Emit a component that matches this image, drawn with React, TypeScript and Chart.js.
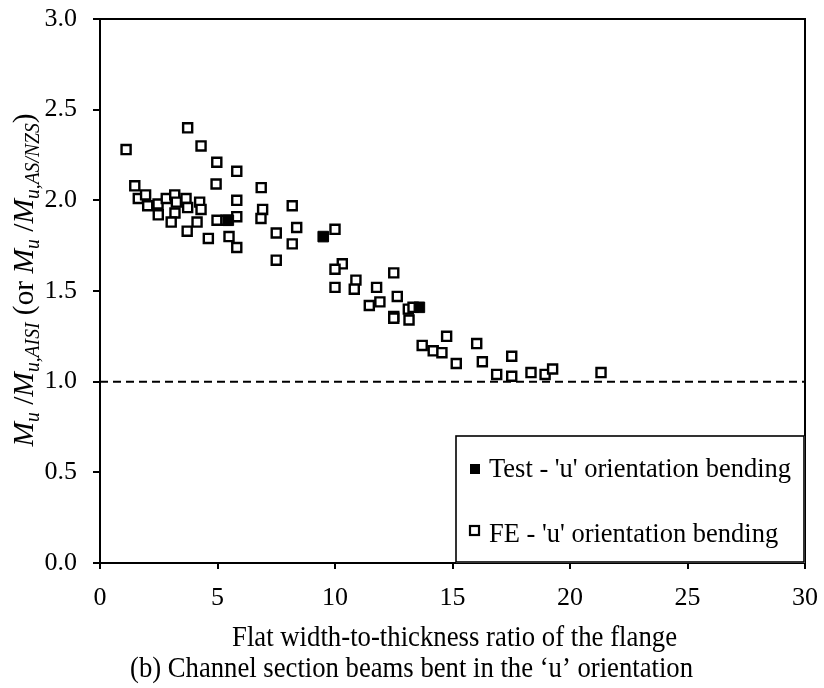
import { useEffect, useRef } from 'react';
import { Chart, registerables } from 'chart.js';

Chart.register(...registerables);

const FONT = "'Liberation Serif', 'Times New Roman', serif";

// FE results ('u' orientation bending)
const FE_X = [1.11, 1.48, 1.63, 1.94, 2.03, 2.47, 2.48, 2.82, 3.18, 3.25, 3.19, 3.03, 3.66, 3.73, 3.73, 4.24, 4.30, 4.13, 3.71, 4.30, 4.61, 4.98, 4.97, 4.94, 5.82, 5.82, 5.82, 5.49, 5.82, 5.36, 6.86, 6.92, 6.85, 7.50, 7.50, 8.18, 8.37, 8.18, 10.0, 10.31, 10.0, 10.0, 10.89, 10.82, 11.77, 11.91, 11.46, 12.5, 12.65, 12.5, 12.5, 13.12, 13.15, 13.32, 14.75, 13.71, 14.18, 14.55, 15.16, 16.03, 16.27, 16.88, 17.52, 17.52, 18.34, 18.94, 19.26, 21.32];
const FE_Y = [2.28, 2.08, 2.01, 2.03, 1.97, 1.98, 1.92, 2.01, 2.03, 1.99, 1.93, 1.88, 2.01, 1.96, 2.40, 1.99, 1.95, 1.88, 1.83, 2.30, 1.79, 1.89, 2.21, 2.09, 2.16, 2.00, 1.91, 1.80, 1.74, 1.89, 2.07, 1.95, 1.90, 1.82, 1.67, 1.97, 1.85, 1.76, 1.84, 1.65, 1.62, 1.52, 1.56, 1.51, 1.52, 1.44, 1.42, 1.60, 1.47, 1.36, 1.35, 1.40, 1.34, 1.41, 1.25, 1.20, 1.17, 1.16, 1.10, 1.21, 1.11, 1.04, 1.14, 1.03, 1.05, 1.04, 1.07, 1.05];

// Test results ('u' orientation bending)
const TEST_X = [5.46, 9.50, 13.59];
const TEST_Y = [1.89, 1.80, 1.41];

// Reference line Mu/Mu,code = 1.0
const REF_X = [0, 30];
const REF_Y = [1.0, 1.0];

const X_MIN = 0, X_MAX = 30, X_STEP = 5;
const Y_MIN = 0, Y_MAX = 3, Y_STEP = 0.5;

const LEGEND_LABELS = ["Test - 'u' orientation bending", "FE - 'u' orientation bending"];
const X_TITLE = 'Flat width-to-thickness ratio of the flange';
const CAPTION = '(b) Channel section beams bent in the \u2018u\u2019 orientation';

type Seg = { t: string; it?: boolean; sub?: boolean };
const Y_TITLE: Seg[] = [
  { t: 'M', it: true }, { t: 'u', it: true, sub: true }, { t: ' /' },
  { t: 'M', it: true }, { t: 'u,AISI', it: true, sub: true }, { t: ' (or ' },
  { t: 'M', it: true }, { t: 'u', it: true, sub: true }, { t: ' /' },
  { t: 'M', it: true }, { t: 'u,AS/NZS', it: true, sub: true }, { t: ')' },
];

function drawFitted(ctx: CanvasRenderingContext2D, text: string, cx: number, baseline: number, width: number, font: string) {
  ctx.save();
  ctx.font = font;
  const w = ctx.measureText(text).width;
  const s = width / w;
  ctx.translate(cx, baseline);
  ctx.scale(s, 1);
  ctx.textAlign = 'center';
  ctx.textBaseline = 'alphabetic';
  ctx.fillStyle = '#000';
  ctx.fillText(text, 0, 0);
  ctx.restore();
}

function drawRich(ctx: CanvasRenderingContext2D, segs: Seg[], length: number, big: number, small: number, subOff: number) {
  const fontOf = (s: Seg) => `${s.it ? 'italic ' : ''}${s.sub ? small : big}px ${FONT}`;
  let total = 0;
  const widths = segs.map((s) => {
    ctx.font = fontOf(s);
    const w = ctx.measureText(s.t).width;
    total += w;
    return w;
  });
  ctx.save();
  ctx.scale(length / total, 1);
  let x = -total / 2;
  ctx.fillStyle = '#000';
  ctx.textAlign = 'left';
  ctx.textBaseline = 'alphabetic';
  segs.forEach((s, i) => {
    ctx.font = fontOf(s);
    ctx.fillText(s.t, x, s.sub ? subOff : 0);
    x += widths[i];
  });
  ctx.restore();
}

const decorPlugin = {
  id: 'decor',
  afterDraw(chart: any) {
    const { ctx, chartArea: a } = chart;
    ctx.save();
    // top and right frame
    ctx.strokeStyle = '#000';
    ctx.lineWidth = 2;
    ctx.beginPath();
    ctx.moveTo(a.left, a.top);
    ctx.lineTo(a.right, a.top);
    ctx.lineTo(a.right, a.bottom);
    ctx.stroke();

    // legend box
    const lx = a.right - 349, ly = a.bottom - 127;
    ctx.fillStyle = '#fff';
    ctx.fillRect(lx, ly, a.right - lx, a.bottom - ly);
    ctx.lineWidth = 1.6;
    ctx.strokeStyle = '#000';
    ctx.strokeRect(lx, ly, a.right - lx - 1, a.bottom - ly - 1);

    // legend entries
    ctx.fillStyle = '#000';
    ctx.fillRect(lx + 14, ly + 28, 10, 10);
    ctx.lineWidth = 2.2;
    ctx.strokeRect(lx + 14, ly + 90, 9, 9);
    ctx.font = `26.5px ${FONT}`;
    ctx.textAlign = 'left';
    ctx.textBaseline = 'alphabetic';
    ctx.fillText(LEGEND_LABELS[0], lx + 33, ly + 41);
    ctx.fillText(LEGEND_LABELS[1], lx + 33, ly + 106);

    // x title and caption
    drawFitted(ctx, X_TITLE, 454.5, 646, 445, `30px ${FONT}`);
    drawFitted(ctx, CAPTION, 411.5, 677, 563, `30px ${FONT}`);

    // y title
    ctx.save();
    ctx.translate(33, 280);
    ctx.rotate(-Math.PI / 2);
    drawRich(ctx, Y_TITLE, 333, 30, 20, 6);
    ctx.restore();

    ctx.restore();
  },
};

export default function App() {
  const ref = useRef<HTMLCanvasElement | null>(null);
  useEffect(() => {
    document.body.style.margin = '0';
    const canvas = ref.current!;
    const chart = new Chart(canvas, {
      type: 'scatter',
      data: {
        datasets: [
          {
            label: 'Test',
            data: TEST_X.map((x, i) => ({ x, y: TEST_Y[i] })),
            pointStyle: 'rect',
            pointRadius: 7.5,
            backgroundColor: '#000',
            borderColor: '#000',
            borderWidth: 1,
            order: 1,
          },
          {
            label: 'FE',
            data: FE_X.map((x, i) => ({ x, y: FE_Y[i] })),
            pointStyle: 'rect',
            pointRadius: 6.4,
            backgroundColor: '#fff',
            borderColor: '#000',
            borderWidth: 2.4,
            order: 2,
          },
          {
            label: 'ref',
            type: 'line',
            data: REF_X.map((x, i) => ({ x, y: REF_Y[i] })),
            showLine: true,
            borderColor: '#000',
            borderWidth: 2,
            borderDash: [8, 5],
            pointRadius: 0,
            fill: false,
            order: 3,
          } as any,
        ],
      },
      options: {
        responsive: false,
        animation: false,
        devicePixelRatio: 1,
        layout: { padding: { left: 0, right: 19, top: 19, bottom: 0 } },
        plugins: { legend: { display: false }, tooltip: { enabled: false } },
        scales: {
          x: {
            type: 'linear',
            min: X_MIN,
            max: X_MAX,
            ticks: { stepSize: X_STEP, color: '#000', font: { family: FONT, size: 26, lineHeight: 1.75 }, padding: 6, maxRotation: 0 },
            grid: { drawOnChartArea: false, drawTicks: true, tickLength: 6, color: '#000', lineWidth: 2 },
            border: { display: true, color: '#000', width: 2 },
            afterFit: (s: any) => { s.height = 125; },
          },
          y: {
            type: 'linear',
            min: Y_MIN,
            max: Y_MAX,
            ticks: { stepSize: Y_STEP, color: '#000', font: { family: FONT, size: 26, lineHeight: 0.2 }, padding: 16, callback: (v: any) => Number(v).toFixed(1) },
            grid: { drawOnChartArea: false, drawTicks: true, tickLength: 7, color: '#000', lineWidth: 2 },
            border: { display: true, color: '#000', width: 2 },
            afterFit: (s: any) => { s.width = 100; },
          },
        },
      },
      plugins: [decorPlugin],
    });
    return () => chart.destroy();
  }, []);
  return <canvas ref={ref} width={824} height={688} style={{ display: 'block' }} />;
}
